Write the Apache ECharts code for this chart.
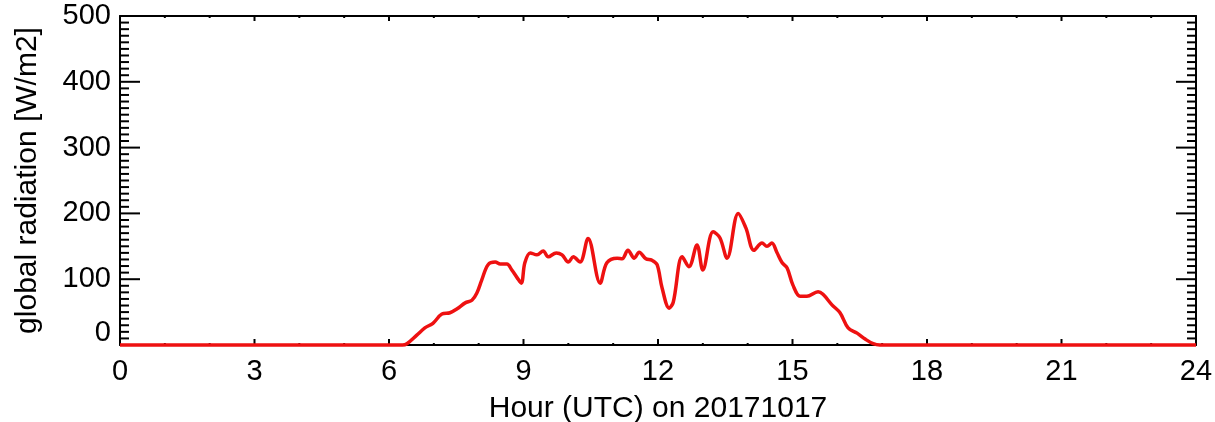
<!DOCTYPE html>
<html>
<head>
<meta charset="utf-8">
<script src="https://cdn.jsdelivr.net/npm/echarts@6/dist/echarts.min.js"></script>
<style>
  html, body { margin: 0; padding: 0; background: #fff; }
  #chart { width: 1215px; height: 422px; }
</style>
</head>
<body>
<div id="chart"></div>
<script>
// Global radiation measured on 2017-10-17 (UTC hours vs W/m2)
const hours = [
  0, 6.30, 6.40, 6.62, 6.80, 6.98, 7.18, 7.36, 7.52, 7.70, 7.85, 7.96, 8.07, 8.21, 8.37,
  8.48, 8.63, 8.74, 8.86, 8.95, 9.03, 9.15, 9.30, 9.44, 9.55, 9.73, 9.86, 10.00, 10.11,
  10.26, 10.44, 10.71, 10.86, 11.09, 11.20, 11.33, 11.47, 11.58, 11.73, 11.86, 11.98,
  12.09, 12.25, 12.34, 12.54, 12.69, 12.87, 13.00, 13.23, 13.38, 13.54, 13.79, 13.96,
  14.14, 14.32, 14.43, 14.54, 14.65, 14.77, 14.88, 15.01, 15.17, 15.32, 15.57, 15.68,
  15.88, 16.06, 16.24, 16.44, 16.62, 16.80, 16.95, 24
];
const radiation = [
  0, 0, 2, 15, 26, 33, 47, 49, 55, 64, 68, 79, 99, 122, 126,
  123, 123, 114, 102, 94, 125, 140, 137, 143, 134, 140, 137, 126, 134,
  126, 162, 94, 125, 132, 131, 144, 132, 141, 131, 129, 122,
  87, 56, 65, 134, 119, 152, 114, 172, 163, 132, 200, 178,
  144, 155, 150, 155, 141, 125, 117, 91, 74, 74, 81, 77,
  61, 49, 26, 18, 9, 2, 0, 0
];
const yTicks = [0, 100, 200, 300, 400, 500];
const xTicks = [0, 3, 6, 9, 12, 15, 18, 21, 24];
const xMinorPerMajor = 3;   // one minor tick every hour
const yMinorPerMajor = 10;  // one minor tick every 10 W/m2

const points = hours.map((h, i) => [h, radiation[i]]);
const font = '"Liberation Sans", Arial, Helvetica, sans-serif';
const black = '#000';

const xMin = xTicks[0], xMax = xTicks[xTicks.length - 1];
const yMin = yTicks[0], yMax = yTicks[yTicks.length - 1];

// Inward tick marks on all four sides of the frame: [x, y, length, side]
// side: 0 bottom, 1 top, 2 left, 3 right
const frameTicks = [];
for (let i = 0; i < xTicks.length; i++) {
  frameTicks.push([xTicks[i], yMin, 6, 0], [xTicks[i], yMax, 5, 1]);
  if (i < xTicks.length - 1) {
    const step = (xTicks[i + 1] - xTicks[i]) / xMinorPerMajor;
    for (let k = 1; k < xMinorPerMajor; k++) {
      const v = xTicks[i] + k * step;
      frameTicks.push([v, yMin, 2, 0], [v, yMax, 2, 1]);
    }
  }
}
for (let i = 0; i < yTicks.length; i++) {
  frameTicks.push([xMin, yTicks[i], 20, 2], [xMax, yTicks[i], 20, 3]);
  if (i < yTicks.length - 1) {
    const step = (yTicks[i + 1] - yTicks[i]) / yMinorPerMajor;
    for (let k = 1; k < yMinorPerMajor; k++) {
      const v = yTicks[i] + k * step;
      frameTicks.push([xMin, v, 9, 2], [xMax, v, 9, 3]);
    }
  }
}

function renderTick(params, api) {
  const p = api.coord([api.value(0), api.value(1)]);
  const len = api.value(2);
  const side = api.value(3);
  let x2 = p[0], y2 = p[1];
  if (side === 0) y2 -= len;
  else if (side === 1) y2 += len;
  else if (side === 2) x2 += len;
  else x2 -= len;
  return {
    type: 'line',
    shape: { x1: p[0], y1: p[1], x2: x2, y2: y2 },
    style: { stroke: black, lineWidth: 2 }
  };
}

// One side of the plot frame: a value axis showing just its line
function frameAxis(extra) {
  return Object.assign({
    type: 'value',
    axisLine: { show: true, onZero: false, lineStyle: { color: black, width: 2 } },
    axisTick: { show: false },
    minorTick: { show: false },
    splitLine: { show: false }
  }, extra);
}

const chart = echarts.init(document.getElementById('chart'));
chart.setOption({
  animation: false,
  grid: { left: 120, right: 19, top: 16, bottom: 77, outerBoundsMode: 'none' },
  xAxis: [
    frameAxis({
      position: 'bottom', min: xMin, max: xMax, interval: 3,
      name: 'Hour (UTC) on 20171017', nameLocation: 'middle', nameGap: 49,
      nameTextStyle: { color: black, fontSize: 30, fontFamily: font },
      axisLabel: { color: black, fontSize: 29, fontFamily: font, margin: 12 }
    }),
    frameAxis({
      position: 'top', min: xMin, max: xMax, interval: 3, axisLabel: { show: false }
    })
  ],
  yAxis: [
    frameAxis({
      position: 'left', min: yMin, max: yMax, interval: 100,
      name: 'global radiation [W/m2]', nameLocation: 'middle', nameGap: 77,
      nameTextStyle: { color: black, fontSize: 30, fontFamily: font },
      axisLabel: {
        color: black, fontSize: 29, fontFamily: font, margin: 9,
        formatter: v => (v === 0 ? '{low|0}' : String(v)),
        rich: { low: { fontSize: 29, fontFamily: font, color: black, padding: [0, 0, 24, 0] } }
      }
    }),
    frameAxis({
      position: 'right', min: yMin, max: yMax, interval: 100, axisLabel: { show: false }
    })
  ],
  series: [
    {
      type: 'custom',
      xAxisIndex: 0, yAxisIndex: 0,
      data: frameTicks,
      renderItem: renderTick,
      clip: false,
      silent: true,
      z: 1
    },
    {
      type: 'line',
      xAxisIndex: 0, yAxisIndex: 0,
      data: points,
      showSymbol: false,
      smooth: 0.35,
      clip: false,
      z: 3,
      lineStyle: { color: '#ee1111', width: 3.5 }
    }
  ]
});
</script>
</body>
</html>
